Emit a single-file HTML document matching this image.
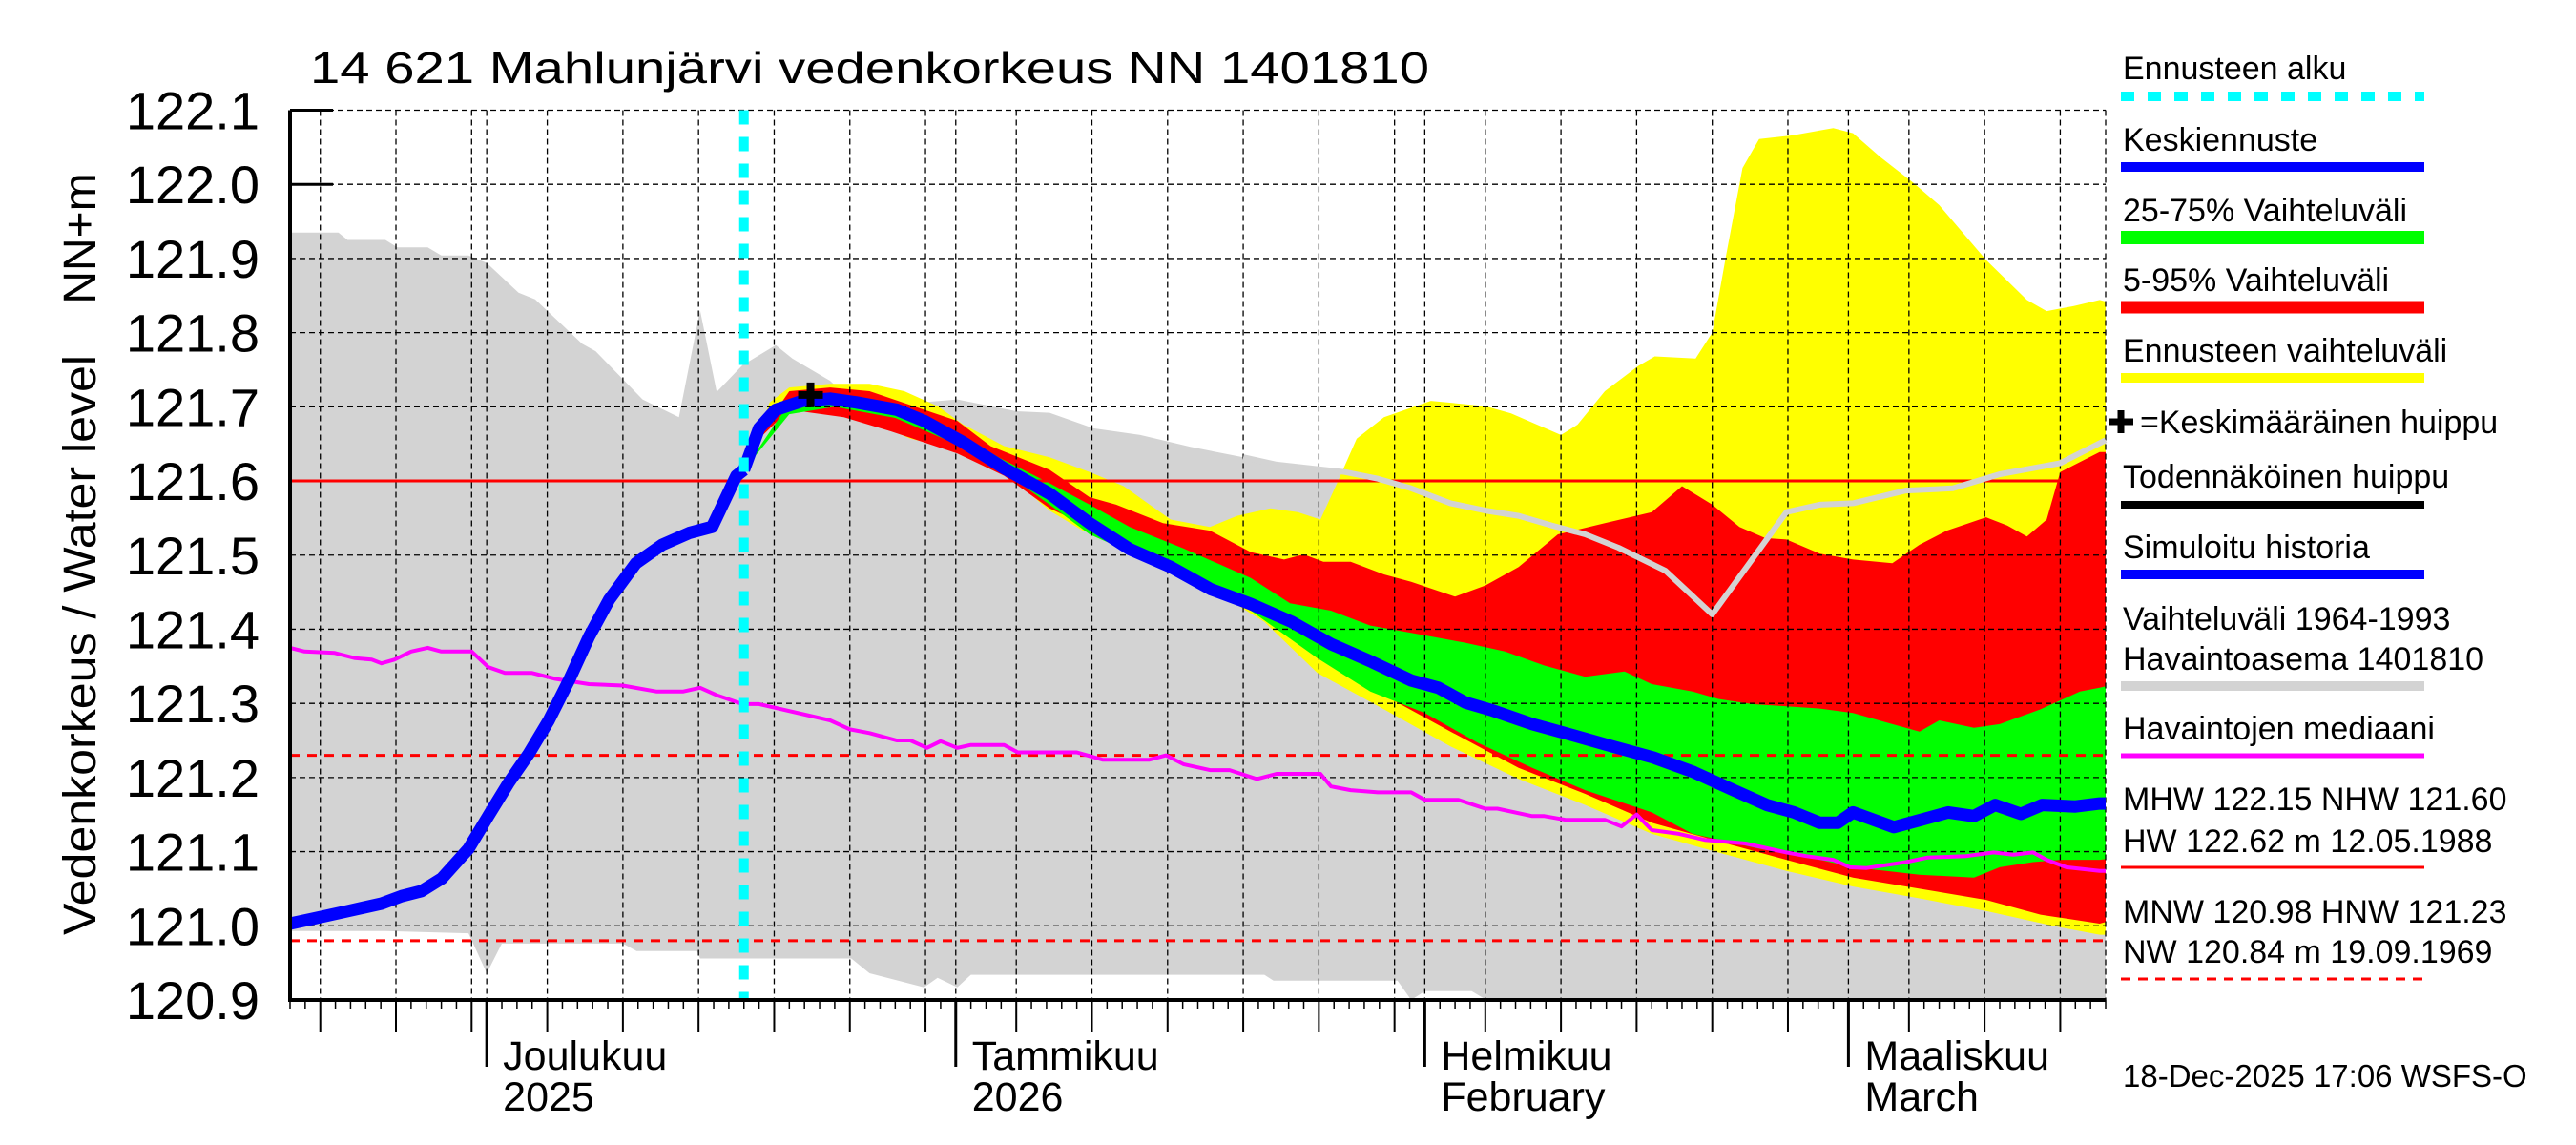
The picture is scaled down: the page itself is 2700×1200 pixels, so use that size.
<!DOCTYPE html>
<html><head><meta charset="utf-8"><style>
html,body{margin:0;padding:0;background:#fff;}
svg{display:block;font-family:"Liberation Sans",Arial,sans-serif;}
</style></head><body>
<svg id="chart" xmlns="http://www.w3.org/2000/svg" width="2700" height="1200" viewBox="0 0 2700 1200">
<text x="325" y="87" font-size="46" textLength="1173" lengthAdjust="spacingAndGlyphs">14 621 Mahlunjärvi vedenkorkeus NN 1401810</text>
<text transform="translate(100,676) rotate(-90)" font-size="48" text-anchor="middle" textLength="608" lengthAdjust="spacingAndGlyphs">Vedenkorkeus / Water level</text>
<text transform="translate(100,250) rotate(-90)" font-size="48" text-anchor="middle">NN+m</text>
<g id="plot"></g>
<g id="axes"></g>
<g id="legend"></g>
<text x="2225" y="1139" font-size="33">18-Dec-2025 17:06 WSFS-O</text>
</svg>
<script>
// ---- data (t = days since 18 Nov 2025) ----
const yTicks = [122.1,122.0,121.9,121.8,121.7,121.6,121.5,121.4,121.3,121.2,121.1,121.0,120.9];
const yTickLabels = ["122.1","122.0","121.9","121.8","121.7","121.6","121.5","121.4","121.3","121.2","121.1","121.0","120.9"];
const gridDays = [2,7,12,13,17,22,27,32,37,42,44,48,53,58,63,68,73,75,79,84,89,94,99,103,107,112,117];
const monthDays = [13,44,75,103];
const monthLabels = [["Joulukuu","2025"],["Tammikuu","2026"],["Helmikuu","February"],["Maaliskuu","March"]];
const forecastStartDay = 30;
const refHigh = 121.60, hnw = 121.23, mnw = 120.98;
const peakDay = 34.4, peakVal = 121.716;

const histMaxDays = [0,3.2,3.8,6.3,7.1,9.1,10,11.8,13,15.1,16.2,19.3,20.2,23.3,25.7,27.1,28.2,29.9,32.1,33.2,35.7,37.5,38.3,44.1,48,50.2,53.1,56.2,59.5,63,65.2,69.7,71.9,74.1,76.7,79,81.2,83.4,85.6,87.8,90.9,94,98.9,101.1,103.3,106.8,109.9,113,117,120];
const histMaxVals = [121.935,121.935,121.925,121.925,121.915,121.915,121.904,121.904,121.894,121.854,121.845,121.785,121.775,121.71,121.686,121.83,121.72,121.756,121.783,121.765,121.735,121.70,121.70,121.71,121.694,121.692,121.671,121.662,121.646,121.632,121.622,121.612,121.603,121.59,121.57,121.56,121.553,121.54,121.528,121.51,121.479,121.42,121.558,121.568,121.57,121.587,121.59,121.609,121.624,121.655];
const histMinDays = [0,6.3,11.8,13,14,17.5,22,22.9,26.9,27.1,37.1,38.3,41.9,42.8,44.1,45,64.4,65,73.2,74.1,75,78.1,79,88.2,89,120];
const histMinVals = [120.993,120.993,120.99,120.936,120.976,120.976,120.976,120.966,120.966,120.956,120.956,120.936,120.917,120.93,120.917,120.934,120.934,120.926,120.926,120.9,120.912,120.912,120.901,120.901,120.9,120.9];

const simDays = [0,1.62,3.83,6.05,7.37,8.7,10.03,11.8,13.1,14.45,15.78,17.1,18.43,19.76,21.09,22.86,24.6,26.4,27.9,29.5,30];
const simVals = [121.003,121.01,121.02,121.03,121.04,121.047,121.064,121.104,121.148,121.193,121.232,121.277,121.331,121.39,121.44,121.489,121.514,121.53,121.538,121.607,121.615];
const meanDays = [30,31,32.1,33.9,35.7,37.4,40.1,41.9,44.5,47.2,50.2,52.85,55.5,58.2,60.85,63.5,66.2,68.8,71.5,74.1,75.9,77.7,79.4,82.1,84.8,87.4,90.1,92.7,95.4,97.6,99.4,101.1,102.3,103.3,106,107.8,109.6,111.3,112.7,114.4,115.8,118,119.6,120];
const meanVals = [121.615,121.671,121.696,121.708,121.711,121.706,121.696,121.681,121.652,121.617,121.583,121.543,121.508,121.484,121.454,121.434,121.41,121.38,121.356,121.331,121.321,121.301,121.291,121.272,121.257,121.242,121.227,121.208,121.183,121.163,121.153,121.139,121.139,121.153,121.133,121.143,121.153,121.148,121.163,121.151,121.163,121.161,121.165,121.165];

const yelHiDays = [30,31.7,33,35.7,38.3,40.6,42.8,44.5,47.2,50.2,52.85,55.1,58.2,60.8,62.6,64.8,66.6,68.1,69.2,70.5,72.3,75.4,79,80.7,84,85.1,86.9,89.1,90.2,92.9,94,94.9,96,97.1,99.3,102,103.3,105.1,107.3,109,112.1,114.8,116.1,117.9,119.6,120];
const yelHiVals = [121.615,121.706,121.726,121.731,121.731,121.721,121.701,121.676,121.647,121.632,121.612,121.593,121.548,121.538,121.553,121.563,121.558,121.548,121.597,121.657,121.686,121.708,121.701,121.691,121.662,121.676,121.721,121.755,121.768,121.765,121.8,121.903,122.022,122.061,122.066,122.076,122.069,122.037,122.002,121.972,121.898,121.844,121.829,121.836,121.844,121.842];
const yelLoDays = [30,31,33,35.7,38.3,41,44.1,47.2,50.2,52.4,55.5,58.2,61.3,64.4,67.9,72.3,76.7,81.2,85.6,90,94.4,98.9,103.3,107.7,112.1,116.5,119.6,120];
const yelLoVals = [121.615,121.657,121.696,121.691,121.681,121.657,121.642,121.612,121.56,121.533,121.509,121.479,121.449,121.41,121.341,121.292,121.242,121.198,121.163,121.124,121.099,121.074,121.053,121.037,121.02,121.0,120.988,120.988];
const redHiDays = [30,31,33,35.7,38.3,41.9,44.1,46.3,50.2,52.85,54.6,57.7,60.8,63.5,65.7,67,68.3,70.1,72.3,74.1,77,79,81.2,83.8,86.9,90,92,94,95.8,97.5,98.9,101.1,103.3,105.9,107.7,109.5,112.1,113.5,114.8,116.1,117,119.6,120];
const redHiVals = [121.615,121.662,121.721,121.726,121.721,121.696,121.681,121.647,121.615,121.578,121.568,121.543,121.533,121.504,121.494,121.501,121.491,121.491,121.474,121.464,121.444,121.459,121.484,121.528,121.543,121.558,121.593,121.568,121.538,121.523,121.521,121.502,121.494,121.489,121.514,121.533,121.551,121.54,121.525,121.548,121.612,121.639,121.639];
const redLoDays = [30,31,33,36.6,39.7,41.9,44.1,47.2,50.2,52.85,55.95,59.05,63.5,67.9,72.3,76.7,81.2,85.6,90,94.4,98.9,103.3,107.7,112.1,115.7,119.6,120];
const redLoVals = [121.615,121.657,121.696,121.686,121.667,121.652,121.637,121.607,121.563,121.538,121.514,121.479,121.43,121.361,121.311,121.262,121.213,121.178,121.139,121.114,121.089,121.065,121.05,121.035,121.015,121.003,121.005];
const grnHiDays = [30,33,36,40,44,47,50.2,52.85,55.5,59.05,63.5,66.1,68.8,71.4,74.1,77.6,80.3,82.9,85.6,88.2,90,92.7,94.4,96.6,98.9,101.1,103.3,105.9,107.7,109,111.3,113,115.7,118.3,119.6,120];
const grnHiVals = [121.615,121.705,121.71,121.70,121.665,121.63,121.597,121.568,121.538,121.509,121.469,121.435,121.425,121.405,121.395,121.382,121.37,121.351,121.336,121.343,121.326,121.316,121.306,121.299,121.296,121.293,121.287,121.272,121.262,121.277,121.267,121.272,121.292,121.316,121.321,121.323];
const grnLoDays = [30,33,36,40,44,47,50.2,52.85,55.5,59.05,63.5,67.9,71.4,75,78.5,82.1,85.6,90,92.7,97.1,101.1,103.3,105.5,107.7,111.3,113,115.2,117,119.6,120];
const grnLoVals = [121.615,121.69,121.70,121.685,121.65,121.615,121.568,121.528,121.504,121.469,121.425,121.361,121.316,121.287,121.247,121.213,121.183,121.153,121.124,121.104,121.089,121.079,121.074,121.069,121.065,121.079,121.086,121.089,121.089,121.09];

const medDays = [0,0.96,2.95,4.3,5.4,6.05,6.9,8,9.1,10,12,13.1,14.2,16,17.55,19.76,22,24.2,26,27.1,28.2,29.9,31,35.7,37,38.3,40.1,41,42.1,43,44.1,45,47.2,48.1,50.2,52,53.7,56.8,57.9,59.05,60.8,62.1,63.9,65.2,68.1,68.8,70.1,71.9,74.1,75,77.2,79,79.8,82.1,82.9,84.3,86.9,88,89,90,91.8,93.5,96.2,98.9,100.2,102,103.1,104.2,106.8,108.2,110.8,112.6,113.9,115.2,116.1,117.4,119.6,120];
const medVals = [121.375,121.37,121.368,121.361,121.359,121.354,121.359,121.37,121.375,121.37,121.37,121.349,121.341,121.341,121.333,121.326,121.324,121.316,121.316,121.321,121.311,121.299,121.299,121.277,121.265,121.26,121.25,121.25,121.24,121.249,121.24,121.244,121.244,121.234,121.234,121.234,121.224,121.224,121.23,121.218,121.21,121.21,121.198,121.205,121.205,121.188,121.183,121.18,121.18,121.17,121.17,121.158,121.158,121.148,121.148,121.143,121.143,121.134,121.15,121.129,121.124,121.116,121.111,121.099,121.094,121.089,121.079,121.078,121.086,121.092,121.094,121.099,121.096,121.099,121.089,121.079,121.074,121.074];

// ---- scales ----
const X0=304, X1=2207, Y0=1048, YT=115.5;
function xs(t){ return X0 + t*(X1-X0)/120; }
function ys(v){ return Y0 - (v-120.9)*(Y0-YT)/1.2; }
const NS="http://www.w3.org/2000/svg";
const plot=document.getElementById('plot'), axes=document.getElementById('axes'), legend=document.getElementById('legend');
function mk(tag,attrs,parent){ const e=document.createElementNS(NS,tag); for(const k in attrs) e.setAttribute(k,attrs[k]); parent.appendChild(e); return e; }
function pts(d,v){ return d.map((t,i)=>xs(t).toFixed(1)+','+ys(v[i]).toFixed(1)); }
function band(dHi,vHi,dLo,vLo,color,name){
  const p=pts(dHi,vHi).concat(pts(dLo,vLo).reverse());
  const el=mk('polygon',{points:p.join(' '),fill:color},plot);
  
  
}
function line(d,v,color,w,name,extra){
  const el=mk('polyline',Object.assign({points:pts(d,v).join(' '),fill:'none',stroke:color,'stroke-width':w,'stroke-linejoin':'round'},extra||{}),plot);
  
  
}

// y ticks (behind fills)
yTicks.forEach((v,i)=>{
  const tk=mk('line',{x1:X0,x2:X0+45,y1:ys(v),y2:ys(v),stroke:'#000','stroke-width':3},plot);
  
  
  const lb=mk('text',{x:272,y:ys(v)+20,'font-size':56,'text-anchor':'end'},axes);
  lb.textContent=yTickLabels[i];
  
  
});

band(histMaxDays,histMaxVals,histMinDays,histMinVals,'#d3d3d3','historical-range-band');
band(yelHiDays,yelHiVals,yelLoDays,yelLoVals,'#ffff00','forecast-range-band');
band(redHiDays,redHiVals,redLoDays,redLoVals,'#ff0000','band-5-95');
band(grnHiDays,grnHiVals,grnLoDays,grnLoVals,'#00ff00','band-25-75');

// grid
yTicks.forEach(v=>{
  const g=mk('line',{x1:X0,x2:X1,y1:ys(v),y2:ys(v),stroke:'#000','stroke-width':1.3,'stroke-dasharray':'6,4'},plot);
  
  
});
gridDays.concat([120]).forEach(t=>{
  const g=mk('line',{x1:xs(t),x2:xs(t),y1:YT,y2:Y0,stroke:'#000','stroke-width':1.3,'stroke-dasharray':'6,4'},plot);
  
  
});

// reference lines
let r=mk('line',{x1:X0,x2:X1,y1:ys(refHigh),y2:ys(refHigh),stroke:'#ff0000','stroke-width':3},plot);


r=mk('line',{x1:X0,x2:X1,y1:ys(hnw),y2:ys(hnw),stroke:'#ff0000','stroke-width':3,'stroke-dasharray':'10,8'},plot);


r=mk('line',{x1:X0,x2:X1,y1:ys(mnw),y2:ys(mnw),stroke:'#ff0000','stroke-width':3,'stroke-dasharray':'10,8'},plot);



// gray upper line over bands
const gi=histMaxDays.findIndex(t=>t>=63);
line(histMaxDays.slice(gi),histMaxVals.slice(gi),'#d3d3d3',6,'historical-max-line');
line(medDays,medVals,'#ff00ff',4,'median-line');
line(simDays,simVals,'#0000ff',13,'simulated-history-line');
line(meanDays,meanVals,'#0000ff',13,'mean-forecast-line');

// forecast start
r=mk('line',{x1:xs(forecastStartDay),x2:xs(forecastStartDay),y1:YT,y2:Y0,stroke:'#00ffff','stroke-width':10,'stroke-dasharray':'15,13'},plot);



// peak marker
const pk=mk('path',{d:`M${xs(peakDay)-13},${ys(peakVal)} h26 M${xs(peakDay)},${ys(peakVal)-13} v26`,stroke:'#000','stroke-width':8},plot);



// axes
mk('line',{x1:X0,x2:X0,y1:YT,y2:Y0+2,stroke:'#000','stroke-width':4},axes);
mk('line',{x1:X0,x2:X1,y1:Y0,y2:Y0,stroke:'#000','stroke-width':4},axes);
for(let t=0;t<=120;t++){
  let len=9, w=1.5;
  if(gridDays.includes(t)) { len=34; w=2; }
  if(monthDays.includes(t)) { len=70; w=3; }
  const tk=mk('line',{x1:xs(t),x2:xs(t),y1:Y0,y2:Y0+len,stroke:'#000','stroke-width':w},axes);
  
  
}
monthDays.forEach((t,i)=>{
  const a=mk('text',{x:xs(t)+17,y:1121,'font-size':43},axes);
  a.textContent=monthLabels[i][0];
  
  
  const b=mk('text',{x:xs(t)+17,y:1164,'font-size':43},axes);
  b.textContent=monthLabels[i][1];
  
  
});

// legend
const LX=2223, LX2=2541;
const legTexts=[
 [83,"Ennusteen alku"],[158,"Keskiennuste"],[232,"25-75% Vaihteluväli"],[305,"5-95% Vaihteluväli"],
 [379,"Ennusteen vaihteluväli"],[511,"Todennäköinen huippu"],[585,"Simuloitu historia"],
 [660,"Vaihteluväli 1964-1993"],[702,"Havaintoasema 1401810"],[775,"Havaintojen mediaani"],
 [849,"MHW 122.15 NHW 121.60"],[893,"HW 122.62 m 12.05.1988"],[967,"MNW 120.98 HNW 121.23"],[1009,"NW 120.84 m 19.09.1969"]];
legTexts.forEach(([y,s])=>{
  const tx=mk('text',{x:2225,y:y,'font-size':34},legend);
  tx.textContent=s;
  
  
});
const peakTx=mk('text',{x:2243,y:454,'font-size':34},legend);
peakTx.textContent="=Keskimääräinen huippu";


const lc=mk('path',{d:'M2210,442 h26 M2223,430 v24',stroke:'#000','stroke-width':7},legend);


const legLines=[[101,'#00ffff',10,'14,14'],[175,'#0000ff',10,''],[249,'#00ff00',14,''],[322,'#ff0000',13,''],[396,'#ffff00',10,''],[529,'#000',8,''],[602,'#0000ff',10,''],[719,'#d3d3d3',10,''],[792,'#ff00ff',5,''],[909,'#ff0000',3,''],[1026,'#ff0000',3,'10,8']];
legLines.forEach(([y,c,w,da])=>{
  const a={x1:LX,x2:LX2,y1:y,y2:y,stroke:c,'stroke-width':w};
  if(da) a['stroke-dasharray']=da;
  const ln=mk('line',a,legend);
  
  
});
</script>
</body></html>
